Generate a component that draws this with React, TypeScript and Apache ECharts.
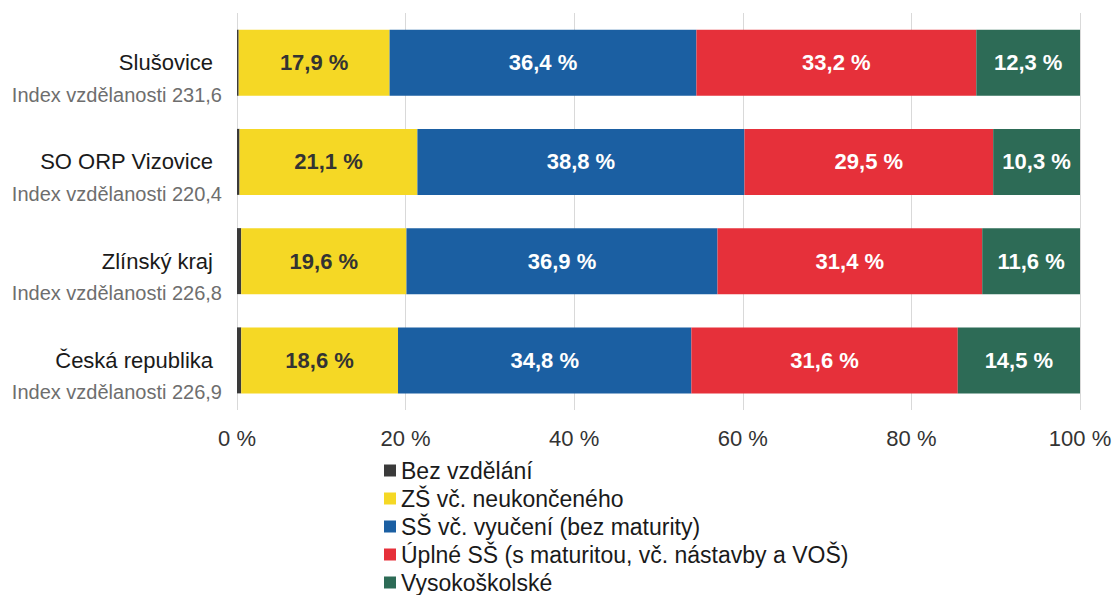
import React, { useEffect, useRef } from "react";
import * as echarts from "echarts";

const categories = ["Slušovice", "SO ORP Vizovice", "Zlínský kraj", "Česká republika"];
const indexLabels = [
  "Index vzdělanosti 231,6",
  "Index vzdělanosti 220,4",
  "Index vzdělanosti 226,8",
  "Index vzdělanosti 226,9",
];
const seriesNames = [
  "Bez vzdělání",
  "ZŠ vč. neukončeného",
  "SŠ vč. vyučení (bez maturity)",
  "Úplné SŠ (s maturitou, vč. nástavby a VOŠ)",
  "Vysokoškolské",
];
const bezVzdelani = [0.2, 0.3, 0.5, 0.5];
const zakladni = [17.9, 21.1, 19.6, 18.6];
const vyuceni = [36.4, 38.8, 36.9, 34.8];
const maturita = [33.2, 29.5, 31.4, 31.6];
const vysokoskolske = [12.3, 10.3, 11.6, 14.5];
const xTicks = [0, 20, 40, 60, 80, 100];

const colors = ["#3a3a3a", "#f5d825", "#1b5fa2", "#e6303a", "#2d6b56"];
const FONT = "Liberation Sans, Arial, Helvetica, sans-serif";

export default function App() {
  const ref = useRef<HTMLDivElement>(null);
  useEffect(() => {
    if (!ref.current) return;
    const chart = echarts.init(ref.current, undefined, { renderer: "svg" });
    const dataSets = [bezVzdelani, zakladni, vyuceni, maturita, vysokoskolske];
    const fmt = (v: number) => v.toFixed(1).replace(".", ",") + " %";
    chart.setOption({
      animation: false,
      backgroundColor: "#ffffff",
      textStyle: { fontFamily: FONT },
      grid: { left: 237, right: 36, top: 13, bottom: 185, containLabel: false },
      legend: {
        orient: "vertical",
        left: 379,
        top: 454,
        height: 200,
        itemWidth: 12,
        itemHeight: 12,
        itemGap: 5,
        icon: "rect",
        data: seriesNames,
        textStyle: { fontSize: 23, lineHeight: 22, color: "#1a1a1a", fontFamily: FONT },
      },
      xAxis: {
        type: "value",
        min: 0,
        max: 100,
        interval: 20,
        axisLine: { show: false },
        axisTick: { show: false },
        splitLine: { show: true, lineStyle: { color: "#d9d9d9", width: 1 } },
        axisLabel: {
          margin: 17,
          fontSize: 22,
          color: "#333333",
          fontFamily: FONT,
          formatter: (v: number) => (xTicks.includes(v) ? v + " %" : ""),
        },
      },
      yAxis: {
        type: "category",
        data: categories,
        inverse: true,
        axisLine: { show: false },
        axisTick: { show: false },
        axisLabel: {
          margin: 15,
          padding: [32, 0, 0, 0],
          fontFamily: FONT,
          formatter: (v: string) => {
            const i = categories.indexOf(v);
            return "{a|" + v + "}\n{b|" + indexLabels[i] + "}";
          },
          rich: {
            a: { fontSize: 22, color: "#1a1a1a", lineHeight: 32, padding: [0, 9, 0, 0], fontFamily: FONT, align: "right" },
            b: { fontSize: 20, color: "#6e6e6e", lineHeight: 32, fontFamily: FONT, align: "right" },
          },
        },
      },
      series: seriesNames.map((name, si) => ({
        name,
        type: "bar",
        stack: "total",
        barWidth: 66,
        data: dataSets[si],
        itemStyle: { color: colors[si] },
        label: {
          show: si > 0,
          position: "inside",
          fontSize: 22,
          fontWeight: "bold",
          fontFamily: FONT,
          color: si === 1 ? "#333333" : "#ffffff",
          formatter: (p: any) => fmt(p.value),
        },
      })),
    });
    return () => chart.dispose();
  }, []);
  return (
    <div
      ref={ref}
      style={{ position: "fixed", left: 0, top: 0, width: 1116, height: 595 }}
    />
  );
}
